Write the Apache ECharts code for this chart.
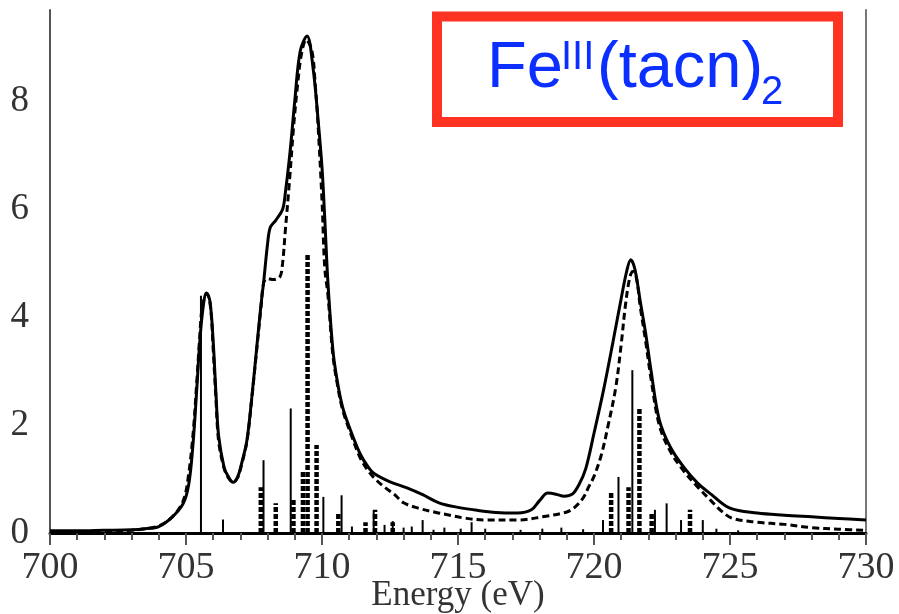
<!DOCTYPE html>
<html>
<head>
<meta charset="utf-8">
<script src="https://cdn.jsdelivr.net/npm/echarts@6/dist/echarts.min.js"></script>
<style>
html,body{margin:0;padding:0;background:#fff;}
#chart{width:899px;height:614px;}
</style>
</head>
<body>
<div id="chart"></div>
<script>
// Experimental spectrum (solid line)
const expX = [700.0,701.0,702.0,703.0,703.5,704.0,704.5,704.9,705.1,705.25,705.4,705.5,705.62,705.75,705.88,706.0,706.1,706.2,706.4,706.55,706.73,706.9,707.05,707.24,707.42,707.6,707.75,707.86,708.0,708.1,708.3,708.55,708.65,708.83,709.0,709.2,709.45,709.67,709.85,710.0,710.1,710.22,710.4,710.55,710.75,711.03,711.4,711.7,711.9,712.5,713.1,713.7,714.3,714.95,715.7,716.4,717.2,717.7,718.0,718.3,718.6,718.9,719.2,719.45,719.7,720.0,720.35,720.7,721.0,721.2,721.35,721.5,721.7,721.9,722.1,722.4,722.8,723.3,723.8,724.3,725.0,726.0,727.0,728.0,729.0,730.0];
const expY = [0.04,0.04,0.05,0.06,0.08,0.12,0.3,0.55,0.9,1.6,2.7,3.5,4.15,4.45,4.3,3.55,2.6,1.8,1.22,1.05,0.94,1.04,1.3,1.72,2.52,3.44,4.2,4.68,5.37,5.67,5.8,6.0,6.3,7.09,8.02,8.94,9.22,8.63,7.7,6.78,5.85,4.63,3.4,2.85,2.35,1.93,1.47,1.22,1.11,0.95,0.84,0.71,0.56,0.48,0.42,0.38,0.37,0.43,0.6,0.74,0.72,0.68,0.72,0.9,1.2,1.85,2.65,3.55,4.35,4.85,5.07,4.9,4.3,3.7,3.0,2.1,1.6,1.22,0.93,0.72,0.46,0.37,0.33,0.3,0.27,0.24];

// Calculated spectrum (dashed line)
const calcX = [700.0,701.0,702.0,703.0,703.5,704.0,704.5,704.9,705.1,705.27,705.4,705.5,705.6,705.77,705.9,706.0,706.1,706.2,706.4,706.55,706.73,706.9,707.05,707.24,707.42,707.6,707.75,707.86,708.0,708.2,708.45,708.55,708.65,708.8,708.95,709.1,709.25,709.42,709.63,709.75,709.85,710.0,710.1,710.22,710.4,710.55,710.75,711.03,711.4,711.7,712.0,712.3,712.65,713.0,713.55,714.2,714.7,715.2,716.0,717.2,718.1,719.0,719.3,719.6,719.8,720.0,720.27,720.5,720.8,721.0,721.15,721.3,721.42,721.55,721.7,721.9,722.1,722.4,722.8,723.3,723.8,724.3,724.7,725.1,726.0,727.0,728.0,729.0,730.0];
const calcY = [0.02,0.02,0.03,0.05,0.08,0.13,0.3,0.6,1.1,1.9,2.83,3.6,4.2,4.44,4.2,3.4,2.5,1.7,1.2,1.03,0.94,1.03,1.28,1.7,2.5,3.4,4.15,4.65,4.72,4.7,4.75,5.0,5.6,6.5,7.5,8.3,8.9,9.15,8.94,8.33,7.6,6.17,4.93,4.4,3.3,2.8,2.3,1.88,1.4,1.15,0.98,0.85,0.72,0.56,0.46,0.38,0.33,0.28,0.24,0.24,0.3,0.39,0.48,0.65,0.85,1.05,1.45,1.95,2.7,3.5,4.2,4.7,4.85,4.75,4.2,3.55,2.85,2.0,1.52,1.15,0.86,0.6,0.4,0.27,0.2,0.16,0.1,0.07,0.05];

// Calculated transitions: thin solid sticks
const stickX = [705.55,706.36,707.85,708.85,710.05,710.72,711.1,711.9,712.3,712.6,713.0,713.3,713.7,714.1,714.5,715.1,715.5,716.0,717.3,718.1,718.8,719.6,720.33,720.9,721.41,722.24,722.67,723.2,724.0,724.5,725.3];
const stickY = [4.4,0.25,1.35,2.31,0.67,0.7,0.12,0.4,0.15,0.22,0.1,0.12,0.24,0.06,0.1,0.08,0.2,0.08,0.06,0.08,0.1,0.07,0.24,1.04,3.02,0.43,0.55,0.24,0.24,0.08,0.05];

// Calculated transitions: thick dashed sticks
const dStickX = [707.75,708.3,708.95,709.3,709.47,709.8,710.6,711.6,711.95,712.6,720.63,721.27,721.67,722.12,723.53];
const dStickY = [0.85,0.55,0.62,1.17,5.19,1.63,0.37,0.2,0.43,0.2,0.74,0.85,2.33,0.37,0.43];

// Axis ticks
const xMin = 700, xMax = 730, xStep = 5;
const yMin = 0, yMax = 9.7, yStep = 2;
const xTitle = 'Energy (eV)';

const zip = (a, b) => a.map((v, i) => [v, b[i]]);

function stickRender(width, dash) {
  return function (params, api) {
    const x = api.value(0), h = api.value(1);
    const p0 = api.coord([x, 0]);
    const p1 = api.coord([x, h]);
    return {
      type: 'line',
      shape: { x1: p0[0], y1: p0[1], x2: p1[0], y2: p1[1] },
      style: { stroke: '#000', lineWidth: width, lineDash: dash }
    };
  };
}

const serif = 'Liberation Serif';
const chart = echarts.init(document.getElementById('chart'), null, { renderer: 'canvas' });
chart.setOption({
  animation: false,
  backgroundColor: '#fff',
  grid: { left: 50, right: 33, top: 10, bottom: 81, containLabel: false, outerBoundsMode: 'none' },
  xAxis: [{
    type: 'value', min: xMin, max: xMax, interval: xStep, position: 'bottom',
    axisLine: { lineStyle: { color: '#777', width: 2 } },
    axisTick: { length: 12, lineStyle: { color: '#555', width: 2 } },
    minorTick: { show: true, splitNumber: 5, length: 7, lineStyle: { color: '#555', width: 2 } },
    splitLine: { show: false },
    axisLabel: { fontFamily: serif, fontSize: 38, color: '#333', margin: 16 },
    name: xTitle, nameLocation: 'middle', nameGap: 45, nameMoveOverlap: false,
    nameTextStyle: { fontFamily: serif, fontSize: 35, color: '#333' }
  }, {
    type: 'value', min: xMin, max: xMax, position: 'top',
    axisLine: { show: true, lineStyle: { color: '#000', width: 3 } },
    axisTick: { show: false }, axisLabel: { show: false }, splitLine: { show: false }
  }],
  yAxis: [{
    type: 'value', min: yMin, max: yMax, interval: yStep, position: 'left',
    axisLine: { show: true, lineStyle: { color: '#555', width: 2 } },
    axisTick: { show: false }, splitLine: { show: false },
    axisLabel: {
      fontFamily: serif, fontSize: 37, color: '#333', margin: 21,
      formatter: v => (Math.abs(v / yStep - Math.round(v / yStep)) < 1e-6 ? String(v) : '')
    }
  }, {
    type: 'value', min: yMin, max: yMax, position: 'right',
    axisLine: { show: true, lineStyle: { color: '#777', width: 2 } },
    axisTick: { show: false }, axisLabel: { show: false }, splitLine: { show: false }
  }],
  series: [{
    type: 'custom', renderItem: stickRender(2, null), data: zip(stickX, stickY), z: 2
  }, {
    type: 'custom', renderItem: stickRender(4.5, [5, 2]), data: zip(dStickX, dStickY), z: 2
  }, {
    type: 'line', data: zip(calcX, calcY), showSymbol: false, smooth: 0.35,
    lineStyle: { color: '#000', width: 3, type: [7, 4] }, z: 3
  }, {
    type: 'line', data: zip(expX, expY), showSymbol: false, smooth: 0.35,
    lineStyle: { color: '#000', width: 3 }, z: 4
  }],
  graphic: [{
    type: 'rect', shape: { x: 437, y: 16.5, width: 401, height: 105.5 },
    style: { fill: '#fff', stroke: '#ff3322', lineWidth: 10 }, z: 10
  }, {
    type: 'text', x: 487, y: 69, z: 11,
    style: { text: 'Fe', font: '65px "Liberation Sans"', fill: '#0a2fff', verticalAlign: 'middle' }
  }, {
    type: 'text', x: 561, y: 58, z: 11,
    style: { text: 'III', font: '40px "Liberation Sans"', fill: '#0a2fff', verticalAlign: 'middle' }
  }, {
    type: 'text', x: 597, y: 69, z: 11,
    style: { text: '(tacn)', font: '65px "Liberation Sans"', fill: '#0a2fff', verticalAlign: 'middle' }
  }, {
    type: 'text', x: 761, y: 93, z: 11,
    style: { text: '2', font: '40px "Liberation Sans"', fill: '#0a2fff', verticalAlign: 'middle' }
  }]
});
</script>
</body>
</html>
